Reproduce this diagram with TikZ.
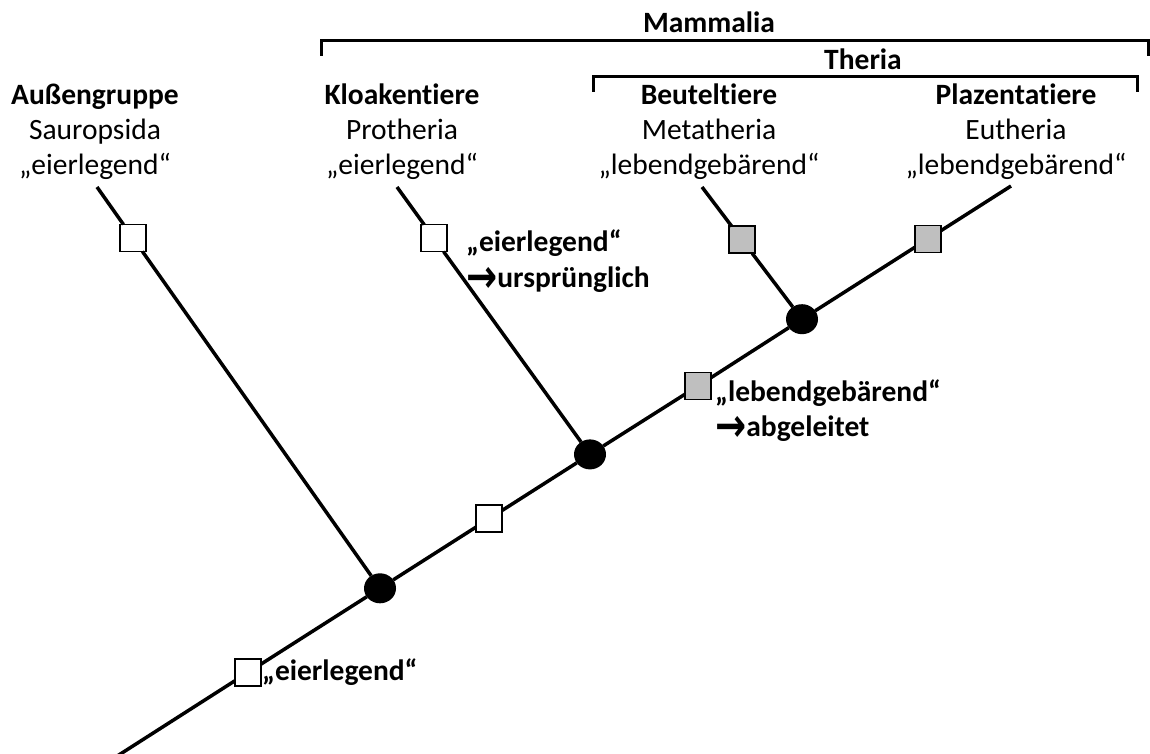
\documentclass[tikz,border=0pt]{standalone}
\usepackage{fontspec}
\setmainfont{Carlito}[Ligatures={NoCommon}]
\newfontfamily\arrowfont{DejaVu Sans}
\usetikzlibrary{shapes.geometric,calc}
\definecolor{boxgray}{HTML}{BFBFBF}
\newcommand{\myarrow}{\smash{\raisebox{-5pt}{\scalebox{1.2}[1.5]{\arrowfont\bfseries\fontsize{31}{35}\selectfont →}}}}
\begin{document}
\begin{tikzpicture}[x=1pt,y=-1pt,
  branch/.style={line width=3.5pt},
  bracket/.style={line width=3pt},
  wbox/.style={draw,line width=1.8pt,fill=white,minimum width=26pt,minimum height=27pt,inner sep=0pt,outer sep=0pt},
  gbox/.style={wbox,fill=boxgray},
  knot/.style={ellipse,fill=black,minimum width=32pt,minimum height=30pt,inner sep=0pt,outer sep=0pt},
  lab/.style={anchor=base,inner sep=0pt,font=\fontsize{29.5}{35}\selectfont},
  blab/.style={anchor=base,inner sep=0pt,font=\fontsize{29.5}{35}\selectfont\bfseries},
  ann/.style={anchor=base west,inner sep=0pt,font=\fontsize{29.5}{35}\selectfont\bfseries}]
\useasboundingbox (0,0) rectangle (1150,754);

% end points
\coordinate (root) at (111,760);
\coordinate (tE) at (1011,186);
\coordinate (tM) at (702,187);
\coordinate (tP) at (397,187);
\coordinate (tS) at (97,187);

% nodes on the main line
\node[wbox] (m1) at (248,672.4) {};
\node[knot] (n1) at (380,588.3) {};
\node[wbox] (m2) at (489,518.8) {};
\node[knot] (n2) at (590,454.4) {};
\node[gbox] (m3) at (698,386) {};
\node[knot] (n3) at (802,319.2) {};
\node[gbox] (m4) at (928,238.9) {};

% squares on the side branches
\node[wbox] (s1) at ($(tS)!0.127!(n1)$) {};
\node[wbox] (p1) at ($(tP)!0.191!(n2)$) {};
\node[gbox] (b1) at ($(tM)!0.40!(n3)$) {};

% connectors
\draw[branch] (root) -- (m1) -- (n1) -- (m2) -- (n2) -- (m3) -- (n3) -- (m4) -- (tE);
\draw[branch] (tS) -- (s1) -- (n1);
\draw[branch] (tP) -- (p1) -- (n2);
\draw[branch] (tM) -- (b1) -- (n3);

% taxon labels
\node[blab] (lA1) at (95,105) {Außengruppe};
\node[lab]  (lA2) at (95,140) {Sauropsida};
\node[lab]  (lA3) at (95,175) {„eierlegend“};
\node[blab] (lK1) at (402,105) {Kloakentiere};
\node[lab]  (lK2) at (402,140) {Protheria};
\node[lab]  (lK3) at (402,175) {„eierlegend“};
\node[blab] (lB1) at (709,105) {Beuteltiere};
\node[lab]  (lB2) at (709,140) {Metatheria};
\node[lab]  (lB3) at (709,175) {„lebendgebärend“};
\node[blab] (lP1) at (1016,105) {Plazentatiere};
\node[lab]  (lP2) at (1016,140) {Eutheria};
\node[lab]  (lP3) at (1016,175) {„lebendgebärend“};

% brackets
\node[blab] (mam) at (709,33) {Mammalia};
\draw[bracket] (321,56) -- (321,41) -- (1148,41) -- (1148,56);
\node[blab] (the) at (863,70) {Theria};
\draw[bracket] (593,92) -- (593,77) -- (1137,77) -- (1137,92);

% annotations
\node[ann] (a1) at (466,251) {„eierlegend“};
\node[ann] (a2) at (466,287) {\myarrow ursprünglich};
\node[ann] (a3) at (715,401) {„lebendgebärend“};
\node[ann] (a4) at (715,436) {\myarrow abgeleitet};
\node[ann] (a5) at (262,680) {„eierlegend“};
\end{tikzpicture}
\end{document}
